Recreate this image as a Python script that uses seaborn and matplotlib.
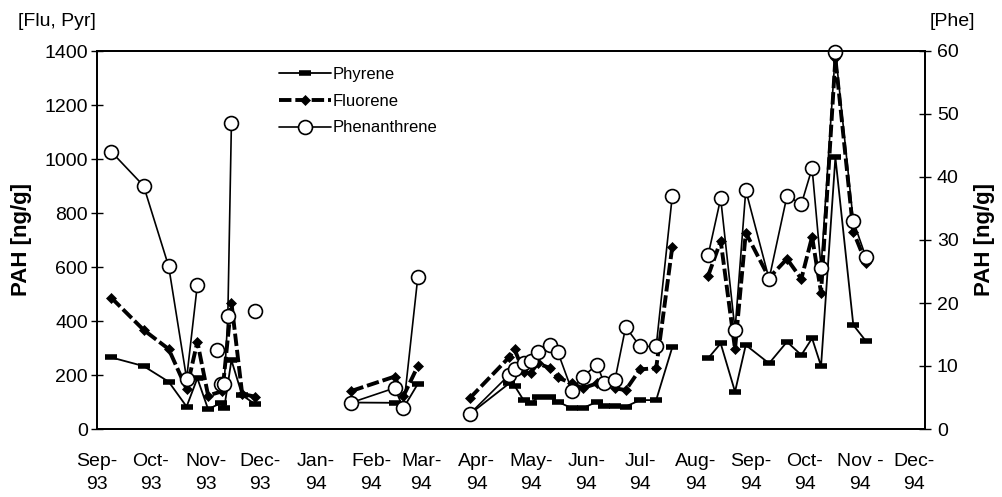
import numpy as np
import pandas as pd
import matplotlib
matplotlib.use("Agg")
import matplotlib.pyplot as plt
from matplotlib.lines import Line2D
import seaborn as sns

sns.set_style("white")
plt.rcParams['font.family'] = ['Liberation Sans', 'DejaVu Sans']
plt.rcParams['text.color'] = 'black'
plt.rcParams['axes.labelcolor'] = 'black'
plt.rcParams['xtick.color'] = 'black'
plt.rcParams['ytick.color'] = 'black'

nan = np.nan

# ---- data ----
pyr_dates = ["1993-09-09", "1993-09-27", "1993-10-11", "1993-10-21", "1993-10-27", "1993-11-02",
             "1993-11-09", "1993-11-11", "1993-11-15", "1993-11-21", "1993-11-28", "1994-01-01",
             "1994-01-21", "1994-02-14", "1994-02-19", "1994-02-27", "1994-03-10",
             "1994-03-28", "1994-04-19", "1994-04-22", "1994-04-27", "1994-05-01", "1994-05-05",
             "1994-05-12", "1994-05-16", "1994-05-24", "1994-05-30", "1994-06-07", "1994-06-11",
             "1994-06-17", "1994-06-23", "1994-07-01", "1994-07-10", "1994-07-19", "1994-07-30",
             "1994-08-08", "1994-08-15", "1994-08-23", "1994-08-29", "1994-09-11", "1994-09-21",
             "1994-09-29", "1994-10-05", "1994-10-10", "1994-10-18", "1994-10-28", "1994-11-04"]
pyr_values = [265, 233, 175, 83, 188, 73,
              96, 78, 255, 125, 93, nan,
              98, 97, 78, 167, nan,
              55, 169, 160, 107, 95, 117,
              117, 101, 77, 77, 101, 85,
              85, 83, 107, 107, 303, nan,
              262, 317, 138, 311, 243, 323,
              274, 336, 233, 1006, 385, 326]

flu_dates = ["1993-09-09", "1993-09-27", "1993-10-11", "1993-10-21", "1993-10-27", "1993-11-02",
             "1993-11-10", "1993-11-15", "1993-11-21", "1993-11-28", "1994-01-01",
             "1994-01-21", "1994-02-14", "1994-02-19", "1994-02-27", "1994-03-10",
             "1994-03-28", "1994-04-19", "1994-04-22", "1994-04-27", "1994-05-01", "1994-05-05",
             "1994-05-12", "1994-05-16", "1994-05-24", "1994-05-30", "1994-06-07", "1994-06-11",
             "1994-06-17", "1994-06-23", "1994-07-01", "1994-07-10", "1994-07-19", "1994-07-30",
             "1994-08-08", "1994-08-15", "1994-08-23", "1994-08-29", "1994-09-11", "1994-09-21",
             "1994-09-29", "1994-10-05", "1994-10-10", "1994-10-18", "1994-10-28", "1994-11-04"]
flu_values = [486, 367, 296, 148, 323, 124,
              140, 468, 130, 120, nan,
              141, 194, 122, 233, nan,
              114, 266, 295, 212, 209, 243,
              225, 191, 169, 151, 169, 175,
              151, 144, 221, 225, 675, nan,
              567, 697, 296, 727, 560, 630,
              556, 712, 505, 1373, 731, 616]

phe_dates = ["1993-09-09", "1993-09-27", "1993-10-11", "1993-10-21", "1993-10-27", "1993-11-02",
             "1993-11-07", "1993-11-08", "1993-11-09", "1993-11-11", "1993-11-13", "1993-11-15",
             "1993-11-21", "1993-11-28", "1994-01-01",
             "1994-01-21", "1994-02-14", "1994-02-19", "1994-02-27", "1994-03-10",
             "1994-03-28", "1994-04-19", "1994-04-22", "1994-04-27", "1994-05-01", "1994-05-05",
             "1994-05-12", "1994-05-16", "1994-05-24", "1994-05-30", "1994-06-07", "1994-06-11",
             "1994-06-17", "1994-06-23", "1994-07-01", "1994-07-10", "1994-07-19", "1994-07-30",
             "1994-08-08", "1994-08-15", "1994-08-23", "1994-08-29", "1994-09-11", "1994-09-21",
             "1994-09-29", "1994-10-05", "1994-10-10", "1994-10-18", "1994-10-28", "1994-11-04"]
phe_values = [44.0, 38.6, 25.8, 8.0, 22.9, nan,
              12.6, nan, 7.2, 7.2, 17.9, 48.6,
              nan, 18.7, nan,
              4.2, 6.5, 3.3, 24.1, nan,
              2.4, 8.6, 9.5, 10.5, 10.8, 12.3,
              13.3, 12.3, 6.1, 8.3, 10.2, 7.3,
              7.8, 16.2, 13.1, 13.1, 37.0, nan,
              27.6, 36.6, 15.7, 37.9, 23.8, 37.0,
              35.7, 41.4, 25.6, 59.9, 33.0, 27.3]

series_names = ["Phyrene", "Fluorene", "Phenanthrene"]
month_ticks = pd.date_range("1993-09-01", "1994-12-01", freq="MS")
month_labels = ["Sep-\n93", "Oct-\n93", "Nov-\n93", "Dec-\n93", "Jan-\n94", "Feb-\n94",
                "Mar-\n94", "Apr-\n94", "May-\n94", "Jun-\n94", "Jul-\n94", "Aug-\n94",
                "Sep-\n94", "Oct-\n94", "Nov -\n94", "Dec-\n94"]
left_ticks = [0, 200, 400, 600, 800, 1000, 1200, 1400]
right_ticks = [0, 10, 20, 30, 40, 50, 60]


def to_frame(dates, values):
    df = pd.DataFrame({"date": pd.to_datetime(dates), "value": values})
    df["seg"] = df["value"].isna().cumsum()
    return df.dropna()


pyr = to_frame(pyr_dates, pyr_values)
flu = to_frame(flu_dates, flu_values)
phe = to_frame(phe_dates, phe_values)

fig = plt.figure(figsize=(10.03, 4.97), dpi=100)
ax = fig.add_axes([97 / 1003, 1 - 429 / 497, 828 / 1003, 378 / 497])
ax2 = ax.twinx()

pyr_kw = dict(color="black", lw=1.3, marker="_", ms=9, mew=4, mec="black")
flu_kw = dict(color="black", lw=2.8, dashes=(3.2, 1.0), marker="D", ms=4.8, mew=0.5,
              mec="black", mfc="black")
phe_kw = dict(color="black", lw=1.2, marker="o", ms=10, mew=1.2, mec="black", mfc="white")

sns.lineplot(data=pyr, x="date", y="value", units="seg", estimator=None, ax=ax, **pyr_kw)
sns.lineplot(data=flu, x="date", y="value", units="seg", estimator=None, ax=ax, **flu_kw)
sns.lineplot(data=phe, x="date", y="value", units="seg", estimator=None, ax=ax2,
             clip_on=False, **phe_kw)

xmin, xmax = pd.Timestamp("1993-09-01"), pd.Timestamp("1994-12-07")
ax.set_xlim(xmin, xmax)
ax.set_ylim(0, 1400)
ax2.set_ylim(0, 60)

fs = 14
ax.set_xticks(month_ticks)
ax.set_xticklabels(month_labels, fontsize=fs, linespacing=1.4)
ax.set_yticks(left_ticks)
ax.set_yticklabels([str(t) for t in left_ticks], fontsize=fs)
ax2.set_yticks(right_ticks)
ax2.set_yticklabels([str(t) for t in right_ticks], fontsize=fs)

ax.tick_params(axis="x", direction="inout", length=9, width=1, pad=13, colors="black")
ax.tick_params(axis="y", direction="inout", length=9, width=1, pad=2, colors="black")
ax2.tick_params(axis="y", direction="inout", length=9, width=1, pad=4, colors="black")

for a in (ax, ax2):
    a.set_xlabel("")
    for s in a.spines.values():
        s.set_color("black")
        s.set_linewidth(1.3)
    a.grid(False)

ax.set_ylabel("PAH [ng/g]", fontsize=16, fontweight="bold", color="black")
ax.yaxis.set_label_coords(-0.079, 0.5)
ax2.set_ylabel("PAH [ng/g]", fontsize=16, fontweight="bold", color="black")
ax2.yaxis.set_label_coords(1.059, 0.5)

fig.text(18 / 1003, 1 - 21 / 497, "[Flu, Pyr]", fontsize=fs, va="center", ha="left",
         color="black")
fig.text(930 / 1003, 1 - 21 / 497, "[Phe]", fontsize=fs, va="center", ha="left",
         color="black")

handles = [
    Line2D([0], [0], **pyr_kw),
    Line2D([0], [0], **flu_kw),
    Line2D([0], [0], **phe_kw),
]
leg = ax2.legend(handles, series_names, loc="upper left", bbox_to_anchor=(0.212, 0.975),
                 frameon=False, fontsize=12, handlelength=3.1, handletextpad=0.1,
                 labelspacing=0.7, borderaxespad=0, labelcolor="black")

fig.savefig("out.png", dpi=100)
